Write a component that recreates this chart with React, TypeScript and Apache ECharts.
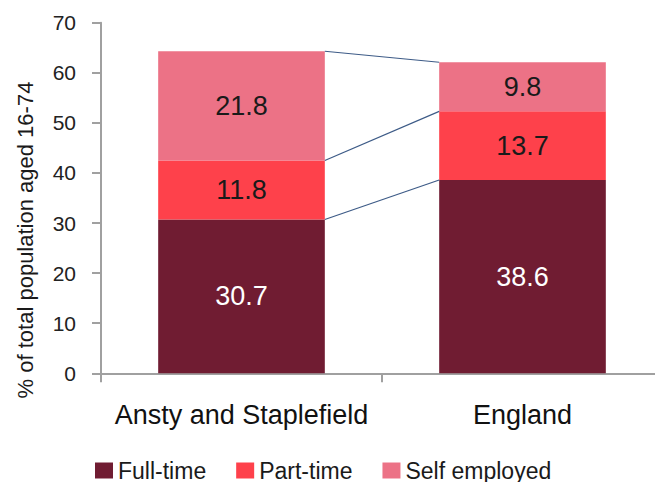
import React, { useEffect, useRef } from "react";
import * as echarts from "echarts";

// Economic activity by type, % of population aged 16-74
const categories = ["Ansty and Staplefield", "England"];
const fullTime = [30.7, 38.6];
const partTime = [11.8, 13.7];
const selfEmployed = [21.8, 9.8];
const yTicks = { min: 0, max: 70, interval: 10 };

const seriesNames = ["Full-time", "Part-time", "Self employed"];
const colors = ["#701c32", "#fe414b", "#ec7286"];
const BAR_RATIO = 0.593;

export default function App() {
  const ref = useRef<HTMLDivElement>(null);

  useEffect(() => {
    if (!ref.current) return;
    const chart = echarts.init(ref.current, undefined, { renderer: "svg" });

    // cumulative stack boundaries for each category, used by the connector lines
    const stacks = [fullTime, partTime, selfEmployed];
    const boundaries: number[][] = [];
    const running = categories.map(() => 0);
    stacks.forEach((s, si) => {
      s.forEach((v, ci) => (running[ci] += v));
      boundaries.push([si, +running[0].toFixed(1), +running[1].toFixed(1)]);
    });

    const font = "'Liberation Sans', Arial, sans-serif";

    const barSeries = stacks.map((vals, i) => ({
      name: seriesNames[i],
      type: "bar",
      stack: "total",
      barWidth: BAR_RATIO * 100 + "%",
      itemStyle: { color: colors[i] },
      label: {
        show: true,
        position: "inside",
        fontFamily: font,
        fontSize: 27,
        color: i === 0 ? "#ffffff" : "#1a1a1a",
        formatter: (p: any) => Number(p.value).toFixed(1),
      },
      data: vals,
    }));

    chart.setOption({
      animation: false,
      grid: { left: 101, top: 22.7, width: 571, height: 350.6, containLabel: false },
      legend: {
        left: 95,
        top: 459,
        padding: 0,
        itemWidth: 18,
        itemHeight: 16,
        itemGap: 30,
        icon: "rect",
        data: seriesNames,
        textStyle: { fontFamily: font, fontSize: 23, color: "#1a1a1a" },
      },
      xAxis: {
        type: "category",
        data: categories,
        axisLine: { lineStyle: { color: "#a0a0a0", width: 2 } },
        axisTick: { show: true, length: 9, lineStyle: { color: "#a0a0a0", width: 2 } },
        axisLabel: {
          interval: 0,
          hideOverlap: false,
          margin: 28,
          fontFamily: font,
          fontSize: 27,
          color: "#111111",
        },
      },
      yAxis: {
        type: "value",
        min: yTicks.min,
        max: yTicks.max,
        interval: yTicks.interval,
        splitLine: { show: false },
        axisLine: { show: true, lineStyle: { color: "#a0a0a0", width: 2 } },
        axisTick: { show: true, length: 9, lineStyle: { color: "#a0a0a0", width: 2 } },
        axisLabel: { margin: 25, fontFamily: font, fontSize: 21, color: "#222222" },
      },
      graphic: [
        {
          type: "text",
          x: 25,
          y: 240,
          rotation: Math.PI / 2,
          style: {
            text: "% of total population aged 16-74",
            fontFamily: font,
            fontSize: 22,
            fill: "#1a1a1a",
            align: "center",
            verticalAlign: "middle",
          },
        },
      ],
      series: [
        ...barSeries,
        {
          type: "custom",
          name: "connectors",
          silent: true,
          z: 5,
          encode: { x: 0, y: 1 },
          data: boundaries,
          renderItem: (_params: any, api: any) => {
            const left = api.coord([0, api.value(1)]);
            const right = api.coord([1, api.value(2)]);
            const half = (api.size([1, 0])[0] * BAR_RATIO) / 2;
            return {
              type: "line",
              shape: {
                x1: left[0] + half,
                y1: left[1],
                x2: right[0] - half,
                y2: right[1],
              },
              style: { stroke: "#3d5b87", lineWidth: 1.2 },
            };
          },
        },
      ],
    });

    return () => chart.dispose();
  }, []);

  return <div ref={ref} style={{ width: 663, height: 482, marginLeft: -8, marginTop: -8 }} />;
}
